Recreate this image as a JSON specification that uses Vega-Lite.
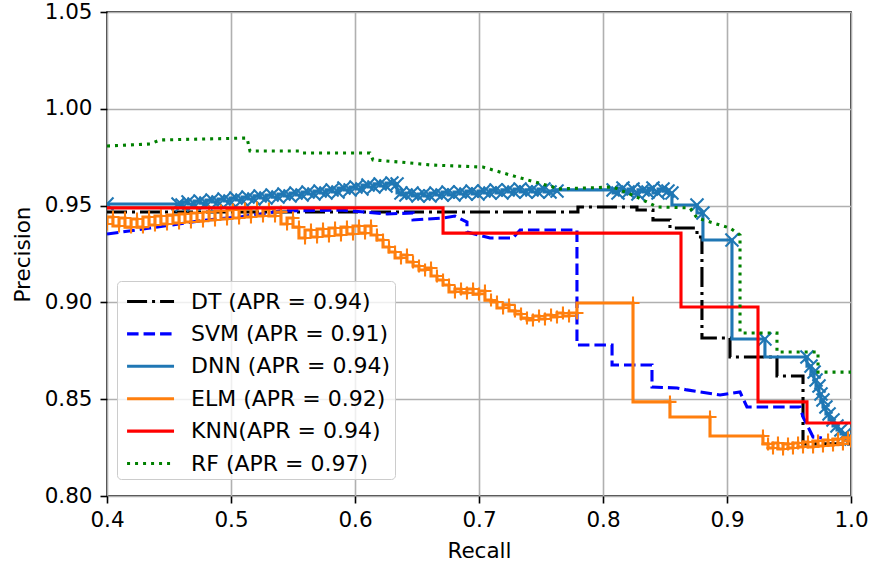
{
"$schema": "https://vega.github.io/schema/vega-lite/v6.json",
"width": 744,
"height": 484,
"autosize": {"type": "none"},
"padding": {"left": 107, "top": 12, "right": 19, "bottom": 69},
"background": "white",
"config": {
  "font": "DejaVu Sans",
  "view": {"stroke": "#000000", "strokeWidth": 1.6},
  "axis": {"grid": true, "gridColor": "#b0b0b0", "gridWidth": 1.6, "domain": false, "tickColor": "#000000", "tickSize": 7, "tickWidth": 1.6, "labelFont": "DejaVu Sans", "labelFontSize": 21.5, "labelColor": "#000000", "titleFont": "DejaVu Sans", "titleFontSize": 21.5, "titleFontWeight": "normal", "titleColor": "#000000", "labelFlush": false, "labelOverlap": false}
},
"data": {"values": [
{"model":"DT","recall":0.4,"precision":0.9467,"order":0},
{"model":"DT","recall":0.7798,"precision":0.9467,"order":1},
{"model":"DT","recall":0.7798,"precision":0.9493,"order":2},
{"model":"DT","recall":0.8274,"precision":0.9493,"order":3},
{"model":"DT","recall":0.8274,"precision":0.9477,"order":4},
{"model":"DT","recall":0.8403,"precision":0.9477,"order":5},
{"model":"DT","recall":0.8403,"precision":0.9426,"order":6},
{"model":"DT","recall":0.854,"precision":0.9426,"order":7},
{"model":"DT","recall":0.854,"precision":0.9384,"order":8},
{"model":"DT","recall":0.8758,"precision":0.9384,"order":9},
{"model":"DT","recall":0.8758,"precision":0.9338,"order":10},
{"model":"DT","recall":0.8798,"precision":0.9338,"order":11},
{"model":"DT","recall":0.8798,"precision":0.8816,"order":12},
{"model":"DT","recall":0.9024,"precision":0.8816,"order":13},
{"model":"DT","recall":0.9024,"precision":0.8718,"order":14},
{"model":"DT","recall":0.9403,"precision":0.8718,"order":15},
{"model":"DT","recall":0.9403,"precision":0.862,"order":16},
{"model":"DT","recall":0.9613,"precision":0.862,"order":17},
{"model":"DT","recall":0.9613,"precision":0.8269,"order":18},
{"model":"DT","recall":1.0,"precision":0.8269,"order":19},
{"model":"SVM","recall":0.4,"precision":0.9353,"order":0},
{"model":"SVM","recall":0.4347,"precision":0.9384,"order":1},
{"model":"SVM","recall":0.4806,"precision":0.9426,"order":2},
{"model":"SVM","recall":0.5073,"precision":0.9441,"order":3},
{"model":"SVM","recall":0.5395,"precision":0.9472,"order":4},
{"model":"SVM","recall":0.5879,"precision":0.9477,"order":5},
{"model":"SVM","recall":0.6258,"precision":0.9457,"order":6},
{"model":"SVM","recall":0.6468,"precision":0.9462,"order":7},
{"model":"SVM","recall":0.6468,"precision":0.9426,"order":8},
{"model":"SVM","recall":0.671,"precision":0.9436,"order":9},
{"model":"SVM","recall":0.6806,"precision":0.9446,"order":10},
{"model":"SVM","recall":0.6903,"precision":0.9415,"order":11},
{"model":"SVM","recall":0.6903,"precision":0.9364,"order":12},
{"model":"SVM","recall":0.7089,"precision":0.9333,"order":13},
{"model":"SVM","recall":0.7274,"precision":0.9333,"order":14},
{"model":"SVM","recall":0.7331,"precision":0.9374,"order":15},
{"model":"SVM","recall":0.779,"precision":0.9374,"order":16},
{"model":"SVM","recall":0.779,"precision":0.878,"order":17},
{"model":"SVM","recall":0.8073,"precision":0.878,"order":18},
{"model":"SVM","recall":0.8073,"precision":0.8677,"order":19},
{"model":"SVM","recall":0.8395,"precision":0.8677,"order":20},
{"model":"SVM","recall":0.8395,"precision":0.8563,"order":21},
{"model":"SVM","recall":0.8597,"precision":0.8558,"order":22},
{"model":"SVM","recall":0.8677,"precision":0.8548,"order":23},
{"model":"SVM","recall":0.8944,"precision":0.8522,"order":24},
{"model":"SVM","recall":0.9105,"precision":0.8537,"order":25},
{"model":"SVM","recall":0.9161,"precision":0.846,"order":26},
{"model":"SVM","recall":0.9589,"precision":0.846,"order":27},
{"model":"SVM","recall":0.9613,"precision":0.8408,"order":28},
{"model":"SVM","recall":0.9694,"precision":0.8305,"order":29},
{"model":"SVM","recall":0.9766,"precision":0.83,"order":30},
{"model":"KNN","recall":0.4,"precision":0.9488,"order":0},
{"model":"KNN","recall":0.671,"precision":0.9488,"order":1},
{"model":"KNN","recall":0.671,"precision":0.9358,"order":2},
{"model":"KNN","recall":0.8629,"precision":0.9358,"order":3},
{"model":"KNN","recall":0.8629,"precision":0.8976,"order":4},
{"model":"KNN","recall":0.925,"precision":0.8976,"order":5},
{"model":"KNN","recall":0.925,"precision":0.8486,"order":6},
{"model":"KNN","recall":0.9645,"precision":0.8486,"order":7},
{"model":"KNN","recall":0.9645,"precision":0.8377,"order":8},
{"model":"KNN","recall":1.0,"precision":0.8377,"order":9},
{"model":"RF","recall":0.4,"precision":0.9808,"order":0},
{"model":"RF","recall":0.4347,"precision":0.9818,"order":1},
{"model":"RF","recall":0.4427,"precision":0.9839,"order":2},
{"model":"RF","recall":0.5129,"precision":0.9849,"order":3},
{"model":"RF","recall":0.5153,"precision":0.9782,"order":4},
{"model":"RF","recall":0.5556,"precision":0.9782,"order":5},
{"model":"RF","recall":0.5573,"precision":0.9772,"order":6},
{"model":"RF","recall":0.6121,"precision":0.9772,"order":7},
{"model":"RF","recall":0.6145,"precision":0.9736,"order":8},
{"model":"RF","recall":0.6363,"precision":0.9725,"order":9},
{"model":"RF","recall":0.6605,"precision":0.971,"order":10},
{"model":"RF","recall":0.7032,"precision":0.9699,"order":11},
{"model":"RF","recall":0.7306,"precision":0.9648,"order":12},
{"model":"RF","recall":0.7597,"precision":0.9596,"order":13},
{"model":"RF","recall":0.7629,"precision":0.9586,"order":14},
{"model":"RF","recall":0.8081,"precision":0.9596,"order":15},
{"model":"RF","recall":0.8274,"precision":0.9544,"order":16},
{"model":"RF","recall":0.8435,"precision":0.9493,"order":17},
{"model":"RF","recall":0.8702,"precision":0.9488,"order":18},
{"model":"RF","recall":0.8758,"precision":0.9436,"order":19},
{"model":"RF","recall":0.9024,"precision":0.9384,"order":20},
{"model":"RF","recall":0.9105,"precision":0.9348,"order":21},
{"model":"RF","recall":0.9105,"precision":0.8842,"order":22},
{"model":"RF","recall":0.9403,"precision":0.8842,"order":23},
{"model":"RF","recall":0.9403,"precision":0.8744,"order":24},
{"model":"RF","recall":0.9734,"precision":0.8744,"order":25},
{"model":"RF","recall":0.9734,"precision":0.864,"order":26},
{"model":"RF","recall":1.0,"precision":0.864,"order":27},
{"model":"DNN","recall":0.4,"precision":0.9508},
{"model":"DNN","recall":0.4573,"precision":0.9508},
{"model":"DNN","recall":0.4605,"precision":0.9503},
{"model":"DNN","recall":0.4653,"precision":0.9519},
{"model":"DNN","recall":0.4702,"precision":0.9508},
{"model":"DNN","recall":0.475,"precision":0.9524},
{"model":"DNN","recall":0.4798,"precision":0.9513},
{"model":"DNN","recall":0.4847,"precision":0.9529},
{"model":"DNN","recall":0.4895,"precision":0.9519},
{"model":"DNN","recall":0.4944,"precision":0.9534},
{"model":"DNN","recall":0.4992,"precision":0.9524},
{"model":"DNN","recall":0.504,"precision":0.9539},
{"model":"DNN","recall":0.5089,"precision":0.9529},
{"model":"DNN","recall":0.5137,"precision":0.9544},
{"model":"DNN","recall":0.5185,"precision":0.9534},
{"model":"DNN","recall":0.5234,"precision":0.955},
{"model":"DNN","recall":0.5282,"precision":0.9539},
{"model":"DNN","recall":0.5331,"precision":0.9555},
{"model":"DNN","recall":0.5379,"precision":0.9544},
{"model":"DNN","recall":0.5427,"precision":0.956},
{"model":"DNN","recall":0.5476,"precision":0.955},
{"model":"DNN","recall":0.5524,"precision":0.9565},
{"model":"DNN","recall":0.5573,"precision":0.9555},
{"model":"DNN","recall":0.5621,"precision":0.957},
{"model":"DNN","recall":0.5669,"precision":0.956},
{"model":"DNN","recall":0.5718,"precision":0.9575},
{"model":"DNN","recall":0.5766,"precision":0.9565},
{"model":"DNN","recall":0.5815,"precision":0.9581},
{"model":"DNN","recall":0.5863,"precision":0.957},
{"model":"DNN","recall":0.5911,"precision":0.9591},
{"model":"DNN","recall":0.596,"precision":0.9581},
{"model":"DNN","recall":0.6008,"precision":0.9596},
{"model":"DNN","recall":0.6056,"precision":0.9586},
{"model":"DNN","recall":0.6105,"precision":0.9606},
{"model":"DNN","recall":0.6153,"precision":0.9596},
{"model":"DNN","recall":0.6202,"precision":0.9612},
{"model":"DNN","recall":0.625,"precision":0.9601},
{"model":"DNN","recall":0.6298,"precision":0.9617},
{"model":"DNN","recall":0.6339,"precision":0.9612},
{"model":"DNN","recall":0.6371,"precision":0.9565},
{"model":"DNN","recall":0.6411,"precision":0.9555},
{"model":"DNN","recall":0.646,"precision":0.9565},
{"model":"DNN","recall":0.6508,"precision":0.955},
{"model":"DNN","recall":0.6556,"precision":0.956},
{"model":"DNN","recall":0.6605,"precision":0.955},
{"model":"DNN","recall":0.6653,"precision":0.9565},
{"model":"DNN","recall":0.6702,"precision":0.9555},
{"model":"DNN","recall":0.675,"precision":0.957},
{"model":"DNN","recall":0.6798,"precision":0.9555},
{"model":"DNN","recall":0.6847,"precision":0.957},
{"model":"DNN","recall":0.6895,"precision":0.956},
{"model":"DNN","recall":0.6944,"precision":0.9575},
{"model":"DNN","recall":0.6992,"precision":0.956},
{"model":"DNN","recall":0.704,"precision":0.9575},
{"model":"DNN","recall":0.7089,"precision":0.9565},
{"model":"DNN","recall":0.7137,"precision":0.9581},
{"model":"DNN","recall":0.7185,"precision":0.9565},
{"model":"DNN","recall":0.7234,"precision":0.9581},
{"model":"DNN","recall":0.7282,"precision":0.957},
{"model":"DNN","recall":0.7331,"precision":0.9586},
{"model":"DNN","recall":0.7379,"precision":0.957},
{"model":"DNN","recall":0.7427,"precision":0.9581},
{"model":"DNN","recall":0.7476,"precision":0.957},
{"model":"DNN","recall":0.7524,"precision":0.9586},
{"model":"DNN","recall":0.7573,"precision":0.957},
{"model":"DNN","recall":0.7629,"precision":0.9575},
{"model":"DNN","recall":0.8081,"precision":0.9581},
{"model":"DNN","recall":0.8121,"precision":0.9565},
{"model":"DNN","recall":0.8161,"precision":0.9591},
{"model":"DNN","recall":0.8202,"precision":0.957},
{"model":"DNN","recall":0.8242,"precision":0.9586},
{"model":"DNN","recall":0.8282,"precision":0.956},
{"model":"DNN","recall":0.8323,"precision":0.9581},
{"model":"DNN","recall":0.8363,"precision":0.957},
{"model":"DNN","recall":0.8403,"precision":0.9591},
{"model":"DNN","recall":0.8444,"precision":0.9565},
{"model":"DNN","recall":0.8484,"precision":0.9586},
{"model":"DNN","recall":0.8524,"precision":0.9575},
{"model":"DNN","recall":0.8556,"precision":0.9565},
{"model":"DNN","recall":0.8758,"precision":0.9503},
{"model":"DNN","recall":0.8806,"precision":0.9462},
{"model":"DNN","recall":0.904,"precision":0.9322},
{"model":"DNN","recall":0.9306,"precision":0.8811},
{"model":"DNN","recall":0.9645,"precision":0.8718},
{"model":"DNN","recall":0.9677,"precision":0.8671},
{"model":"DNN","recall":0.9702,"precision":0.864},
{"model":"DNN","recall":0.9718,"precision":0.8599},
{"model":"DNN","recall":0.9742,"precision":0.8568},
{"model":"DNN","recall":0.9758,"precision":0.8527},
{"model":"DNN","recall":0.9774,"precision":0.8496},
{"model":"DNN","recall":0.9798,"precision":0.846},
{"model":"DNN","recall":0.9823,"precision":0.8424},
{"model":"DNN","recall":0.9855,"precision":0.8393},
{"model":"DNN","recall":0.9887,"precision":0.8362},
{"model":"DNN","recall":0.9919,"precision":0.8341},
{"model":"DNN","recall":0.9952,"precision":0.832},
{"model":"DNN","recall":0.9976,"precision":0.8305},
{"model":"DNN","recall":1.0,"precision":0.8294},
{"model":"ELM","recall":0.4,"precision":0.9405},
{"model":"ELM","recall":0.4048,"precision":0.9441},
{"model":"ELM","recall":0.4097,"precision":0.9395},
{"model":"ELM","recall":0.4145,"precision":0.9436},
{"model":"ELM","recall":0.4194,"precision":0.9389},
{"model":"ELM","recall":0.4242,"precision":0.9431},
{"model":"ELM","recall":0.429,"precision":0.9389},
{"model":"ELM","recall":0.4339,"precision":0.9441},
{"model":"ELM","recall":0.4387,"precision":0.94},
{"model":"ELM","recall":0.4435,"precision":0.9446},
{"model":"ELM","recall":0.4484,"precision":0.9405},
{"model":"ELM","recall":0.4532,"precision":0.9451},
{"model":"ELM","recall":0.4581,"precision":0.941},
{"model":"ELM","recall":0.4629,"precision":0.9457},
{"model":"ELM","recall":0.4677,"precision":0.9415},
{"model":"ELM","recall":0.4726,"precision":0.9462},
{"model":"ELM","recall":0.4774,"precision":0.942},
{"model":"ELM","recall":0.4823,"precision":0.9467},
{"model":"ELM","recall":0.4871,"precision":0.9426},
{"model":"ELM","recall":0.4919,"precision":0.9472},
{"model":"ELM","recall":0.4968,"precision":0.9431},
{"model":"ELM","recall":0.5016,"precision":0.9477},
{"model":"ELM","recall":0.5065,"precision":0.9436},
{"model":"ELM","recall":0.5113,"precision":0.9482},
{"model":"ELM","recall":0.5161,"precision":0.9441},
{"model":"ELM","recall":0.521,"precision":0.9488},
{"model":"ELM","recall":0.5258,"precision":0.9446},
{"model":"ELM","recall":0.5306,"precision":0.9482},
{"model":"ELM","recall":0.5355,"precision":0.9446},
{"model":"ELM","recall":0.5403,"precision":0.9467},
{"model":"ELM","recall":0.5452,"precision":0.9405},
{"model":"ELM","recall":0.55,"precision":0.9436},
{"model":"ELM","recall":0.5548,"precision":0.9389},
{"model":"ELM","recall":0.5597,"precision":0.9333},
{"model":"ELM","recall":0.5645,"precision":0.9374},
{"model":"ELM","recall":0.5694,"precision":0.9338},
{"model":"ELM","recall":0.5742,"precision":0.9379},
{"model":"ELM","recall":0.579,"precision":0.9343},
{"model":"ELM","recall":0.5839,"precision":0.9384},
{"model":"ELM","recall":0.5887,"precision":0.9348},
{"model":"ELM","recall":0.5935,"precision":0.9389},
{"model":"ELM","recall":0.5984,"precision":0.9353},
{"model":"ELM","recall":0.6032,"precision":0.9395},
{"model":"ELM","recall":0.6081,"precision":0.9358},
{"model":"ELM","recall":0.6129,"precision":0.9395},
{"model":"ELM","recall":0.6177,"precision":0.9348},
{"model":"ELM","recall":0.6226,"precision":0.9322},
{"model":"ELM","recall":0.6274,"precision":0.9286},
{"model":"ELM","recall":0.6323,"precision":0.926},
{"model":"ELM","recall":0.6371,"precision":0.9229},
{"model":"ELM","recall":0.6419,"precision":0.9245},
{"model":"ELM","recall":0.6468,"precision":0.9209},
{"model":"ELM","recall":0.6516,"precision":0.9188},
{"model":"ELM","recall":0.6565,"precision":0.9167},
{"model":"ELM","recall":0.6613,"precision":0.9178},
{"model":"ELM","recall":0.6661,"precision":0.9136},
{"model":"ELM","recall":0.671,"precision":0.9116},
{"model":"ELM","recall":0.6758,"precision":0.909},
{"model":"ELM","recall":0.6806,"precision":0.9054},
{"model":"ELM","recall":0.6855,"precision":0.9069},
{"model":"ELM","recall":0.6903,"precision":0.9049},
{"model":"ELM","recall":0.6952,"precision":0.9069},
{"model":"ELM","recall":0.7,"precision":0.9043},
{"model":"ELM","recall":0.7048,"precision":0.9059},
{"model":"ELM","recall":0.7097,"precision":0.9012},
{"model":"ELM","recall":0.7145,"precision":0.9002},
{"model":"ELM","recall":0.7194,"precision":0.8971},
{"model":"ELM","recall":0.7242,"precision":0.8987},
{"model":"ELM","recall":0.729,"precision":0.8956},
{"model":"ELM","recall":0.7339,"precision":0.894},
{"model":"ELM","recall":0.7387,"precision":0.8919},
{"model":"ELM","recall":0.7435,"precision":0.8909},
{"model":"ELM","recall":0.7484,"precision":0.893},
{"model":"ELM","recall":0.7532,"precision":0.8914},
{"model":"ELM","recall":0.7581,"precision":0.8935},
{"model":"ELM","recall":0.7629,"precision":0.8925},
{"model":"ELM","recall":0.7677,"precision":0.8945},
{"model":"ELM","recall":0.7726,"precision":0.893},
{"model":"ELM","recall":0.779,"precision":0.8945},
{"model":"ELM","recall":0.8242,"precision":0.8997},
{"model":"ELM","recall":0.854,"precision":0.8486},
{"model":"ELM","recall":0.8863,"precision":0.8408},
{"model":"ELM","recall":0.929,"precision":0.831},
{"model":"ELM","recall":0.9331,"precision":0.8269},
{"model":"ELM","recall":0.9371,"precision":0.8248},
{"model":"ELM","recall":0.9411,"precision":0.8274},
{"model":"ELM","recall":0.9452,"precision":0.8243},
{"model":"ELM","recall":0.9492,"precision":0.8269},
{"model":"ELM","recall":0.9532,"precision":0.8248},
{"model":"ELM","recall":0.9573,"precision":0.8274},
{"model":"ELM","recall":0.9613,"precision":0.8253},
{"model":"ELM","recall":0.9653,"precision":0.8279},
{"model":"ELM","recall":0.9694,"precision":0.8253},
{"model":"ELM","recall":0.9734,"precision":0.8284},
{"model":"ELM","recall":0.9774,"precision":0.8258},
{"model":"ELM","recall":0.9815,"precision":0.8289},
{"model":"ELM","recall":0.9855,"precision":0.8263},
{"model":"ELM","recall":0.9895,"precision":0.8294},
{"model":"ELM","recall":0.9935,"precision":0.8269},
{"model":"ELM","recall":0.9976,"precision":0.83},
{"model":"ELM","recall":1.0,"precision":0.8284}
]},
"encoding": {
  "x": {"field": "recall", "type": "quantitative", "scale": {"domain": [0.4, 1.0], "nice": false, "zero": false}, "axis": {"title": "Recall", "values": [0.4, 0.5, 0.6, 0.7, 0.8, 0.9, 1.0], "format": ".1f", "labelPadding": 6, "titlePadding": 10}},
  "y": {"field": "precision", "type": "quantitative", "scale": {"domain": [0.8, 1.05], "nice": false, "zero": false}, "axis": {"title": "Precision", "values": [0.8, 0.85, 0.9, 0.95, 1.0, 1.05], "format": ".2f", "labelPadding": 8, "titlePadding": 10}},
  "color": {"field": "model", "type": "nominal", "scale": {"domain": ["DT", "SVM", "DNN", "ELM", "KNN", "RF"], "range": ["#000000", "#0000ff", "#1f77b4", "#ff7f0e", "#ff0000", "#008000"]},
    "legend": {"title": null, "orient": "none", "legendX": 10, "legendY": 269, "symbolType": "M -0.72 0 L 2.52 0", "symbolSize": 841, "symbolStrokeWidth": 3.1, "labelFont": "DejaVu Sans", "labelFontSize": 22, "labelColor": "#000000", "labelOffset": 37, "labelLimit": 0, "rowPadding": 4.4, "padding": 4, "strokeColor": "#cccccc", "fillColor": "rgba(255,255,255,0.8)", "cornerRadius": 4,
      "labelExpr": "datum.label == 'DT' ? 'DT (APR = 0.94)' : datum.label == 'SVM' ? 'SVM (APR = 0.91)' : datum.label == 'DNN' ? 'DNN (APR = 0.94)' : datum.label == 'ELM' ? 'ELM (APR = 0.92)' : datum.label == 'KNN' ? 'KNN(APR = 0.94)' : 'RF (APR = 0.97)'"}},
  "strokeDash": {"field": "model", "type": "nominal", "scale": {"domain": ["DT", "SVM", "DNN", "ELM", "KNN", "RF"], "range": [[20, 5, 3, 5], [11.5, 5], [1, 0], [1, 0], [1, 0], [3, 5]]},
    "legend": {"title": null, "orient": "none", "legendX": 10, "legendY": 269, "symbolType": "M -0.72 0 L 2.52 0", "symbolSize": 841, "symbolStrokeWidth": 3.1, "labelFont": "DejaVu Sans", "labelFontSize": 22, "labelColor": "#000000", "labelOffset": 37, "labelLimit": 0, "rowPadding": 4.4, "padding": 4, "strokeColor": "#cccccc", "fillColor": "rgba(255,255,255,0.8)", "cornerRadius": 4,
      "labelExpr": "datum.label == 'DT' ? 'DT (APR = 0.94)' : datum.label == 'SVM' ? 'SVM (APR = 0.91)' : datum.label == 'DNN' ? 'DNN (APR = 0.94)' : datum.label == 'ELM' ? 'ELM (APR = 0.92)' : datum.label == 'KNN' ? 'KNN(APR = 0.94)' : 'RF (APR = 0.97)'"}}
},
"layer": [
  {"transform": [{"filter": "datum.model == 'DT' || datum.model == 'SVM'"}], "mark": {"type": "line", "strokeWidth": 3.1, "clip": true}, "encoding": {"order": {"field": "order", "type": "quantitative"}}},
  {"transform": [{"filter": "datum.model == 'DNN'"}], "mark": {"type": "line", "interpolate": "step-before", "strokeWidth": 3.1, "clip": true}},
  {"transform": [{"filter": "datum.model == 'DNN'"}], "mark": {"type": "point", "shape": "M -1 -1 L 1 1 M -1 1 L 1 -1", "size": 170, "filled": false, "strokeWidth": 2.1, "opacity": 1, "clip": true}, "encoding": {"color": {"value": "#1f77b4"}, "strokeDash": {"value": [1, 0]}}},
  {"transform": [{"filter": "datum.model == 'ELM'"}], "mark": {"type": "line", "interpolate": "step-before", "strokeWidth": 3.1, "clip": true}},
  {"transform": [{"filter": "datum.model == 'ELM'"}], "mark": {"type": "point", "shape": "M -1 0 L 1 0 M 0 -1 L 0 1", "size": 170, "filled": false, "strokeWidth": 2.1, "opacity": 1, "clip": true}, "encoding": {"color": {"value": "#ff7f0e"}, "strokeDash": {"value": [1, 0]}}},
  {"transform": [{"filter": "datum.model == 'KNN' || datum.model == 'RF'"}], "mark": {"type": "line", "strokeWidth": 3.1, "clip": true}, "encoding": {"order": {"field": "order", "type": "quantitative"}}}
]
}
